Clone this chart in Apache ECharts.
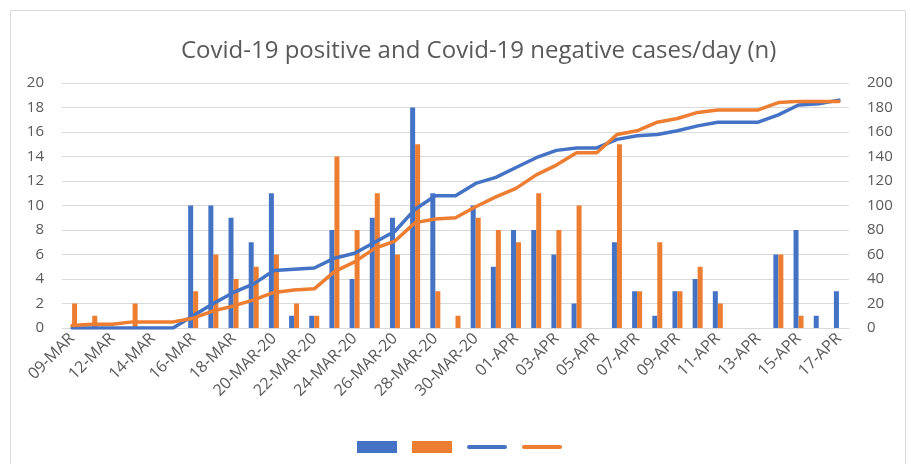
<!DOCTYPE html>
<html>
<head>
<meta charset="utf-8">
<script src="https://cdn.jsdelivr.net/npm/echarts@6/dist/echarts.min.js"></script>
<style>
  html, body { margin: 0; padding: 0; background: #fff; }
  #chart { width: 911px; height: 464px; }
</style>
</head>
<body>
<div id="chart"></div>
<script>
// days on the x axis (one day, 11-MAR, is missing in the source)
const days = ['09-MAR','10-MAR','12-MAR','13-MAR','14-MAR','15-MAR','16-MAR','17-MAR','18-MAR','19-MAR',
              '20-MAR-20','21-MAR-20','22-MAR-20','23-MAR-20','24-MAR-20','25-MAR-20','26-MAR-20','27-MAR-20',
              '28-MAR-20','29-MAR-20','30-MAR-20','31-MAR-20',
              '01-APR','02-APR','03-APR','04-APR','05-APR','06-APR','07-APR','08-APR','09-APR','10-APR',
              '11-APR','12-APR','13-APR','14-APR','15-APR','16-APR','17-APR'];

// daily cases (left axis)
const positiveDay = [0,0,0,0,0,0,10,10,9,7,11,1,1,8,4,9,9,18,11,0,10,5,8,8,6,2,0,7,3,1,3,4,3,0,0,6,8,1,3];
const negativeDay = [2,1,0,2,0,0,3,6,4,5,6,2,1,14,8,11,6,15,3,1,9,8,7,11,8,10,0,15,3,7,3,5,2,0,0,6,1,0,0];

// running totals (right axis)
const positiveTotal = [0,0,0,0,0,0,10,20,29,36,47,48,49,57,61,70,79,97,108,108,118,123,131,139,145,147,147,
                       154,157,158,161,165,168,168,168,174,182,183,186];
const negativeTotal = [2,3,3,5,5,5,8,14,18,23,29,31,32,46,54,65,71,86,89,90,99,107,114,125,133,143,143,
                       158,161,168,171,176,178,178,178,184,185,185,185];

const leftTicks = { min: 0, max: 20, step: 2 };
const rightTicks = { min: 0, max: 200, step: 20 };

const BLUE = '#4472C4';
const ORANGE = '#ED7D31';
const GREY = '#595959';
// flat bar with round ends for the line series in the legend
const LINE_ICON = 'path://M2,0 L38,0 A2,2 0 0 1 38,4 L2,4 A2,2 0 0 1 2,0 Z';

let chart = echarts.init(document.getElementById('chart'), null, { renderer: 'canvas' });

let option = {
    animation: false,
    textStyle: { fontFamily: 'Open Sans' },
    title: {
        text: 'Covid-19 positive and Covid-19 negative cases/day (n)',
        left: 176,
        top: 34,
        textStyle: { color: GREY, fontSize: 24, fontWeight: 'normal', fontFamily: 'Open Sans' }
    },
    graphic: [{
        type: 'rect',
        shape: { x: 10.5, y: 10.5, width: 895, height: 470 },
        style: { fill: 'none', stroke: '#d9d9d9', lineWidth: 1 },
        silent: true
    }],
    legend: {
        top: 436,
        left: 352,
        itemWidth: 40,
        itemHeight: 12,
        itemGap: 15,
        formatter: () => '',
        data: [
            { name: 'Positive / day', icon: 'rect' },
            { name: 'Negative / day', icon: 'rect' },
            { name: 'Positive total', icon: LINE_ICON },
            { name: 'Negative total', icon: LINE_ICON }
        ]
    },
    grid: { left: 62, right: 62, top: 83, bottom: 136 },
    xAxis: {
        type: 'category',
        data: days,
        axisLine: { lineStyle: { color: '#d9d9d9' } },
        axisTick: { show: false },
        axisLabel: { interval: 1, rotate: 45, color: GREY, fontSize: 16, margin: 8 }
    },
    yAxis: [
        {
            type: 'value',
            min: leftTicks.min, max: leftTicks.max, interval: leftTicks.step,
            axisLabel: { color: GREY, fontSize: 15, margin: 18 },
            splitLine: { lineStyle: { color: '#d9d9d9' } }
        },
        {
            type: 'value',
            min: rightTicks.min, max: rightTicks.max, interval: rightTicks.step,
            axisLabel: { color: GREY, fontSize: 15, margin: 18 },
            splitLine: { show: false }
        }
    ],
    series: [
        {
            name: 'Positive / day', type: 'bar', yAxisIndex: 0, data: positiveDay,
            barWidth: 5, barGap: '0%', itemStyle: { color: BLUE }
        },
        {
            name: 'Negative / day', type: 'bar', yAxisIndex: 0, data: negativeDay,
            barWidth: 5, itemStyle: { color: ORANGE }
        },
        {
            name: 'Positive total', type: 'line', yAxisIndex: 1, data: positiveTotal,
            symbol: 'none', lineStyle: { color: BLUE, width: 3.5, cap: 'round', join: 'round' },
            itemStyle: { color: BLUE }
        },
        {
            name: 'Negative total', type: 'line', yAxisIndex: 1, data: negativeTotal,
            symbol: 'none', lineStyle: { color: ORANGE, width: 3.5, cap: 'round', join: 'round' },
            itemStyle: { color: ORANGE }
        }
    ]
};

chart.setOption(option);
</script>
</body>
</html>
